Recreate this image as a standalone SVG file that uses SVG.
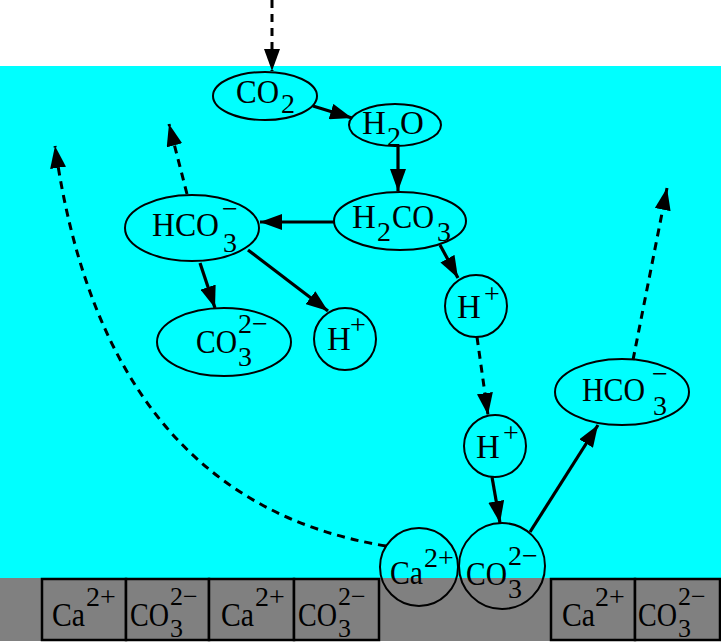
<svg xmlns="http://www.w3.org/2000/svg" width="721" height="643" viewBox="0 0 721 643">
<defs>
<style>
text{font-family:"Liberation Serif","Times New Roman",serif;font-size:33px;fill:#000}
text.s{font-size:28px}
text.k{font-size:26px}
.n{fill:none;stroke:#000;stroke-width:2}
.b{fill:#808080;stroke:#000;stroke-width:2.5}
.a{fill:none;stroke:#000;stroke-width:3.2;marker-end:url(#ah)}
.d{fill:none;stroke:#000;stroke-width:3;stroke-dasharray:8 6;marker-end:url(#ah)}
</style>
<marker id="ah" markerUnits="userSpaceOnUse" markerWidth="24" markerHeight="16" refX="22" refY="8" orient="auto">
<path d="M0,0 L22,8 L0,16 z" fill="#000"/>
</marker>
</defs>
<rect x="0" y="0" width="721" height="643" fill="#fff"/>
<rect x="0" y="66" width="721" height="513" fill="#00ffff"/>
<rect x="0" y="578" width="721" height="63" fill="#808080"/>

<g id="crystal-left">
<rect class="b" x="42" y="579" width="84" height="61"/>
<rect class="b" x="126" y="579" width="83" height="61"/>
<rect class="b" x="209" y="579" width="85" height="61"/>
<rect class="b" x="294" y="579" width="85" height="61"/>
<text x="52" y="626" textLength="33" lengthAdjust="spacingAndGlyphs">Ca</text><text class="s" x="86" y="606">2+</text>
<text x="130" y="626" textLength="39" lengthAdjust="spacingAndGlyphs">CO</text><text class="k" x="170" y="637">3</text><text class="k" x="170" y="605">2−</text>
<text x="221" y="626" textLength="33" lengthAdjust="spacingAndGlyphs">Ca</text><text class="s" x="255" y="606">2+</text>
<text x="298" y="626" textLength="39" lengthAdjust="spacingAndGlyphs">CO</text><text class="k" x="338" y="637">3</text><text class="k" x="338" y="605">2−</text>
</g>
<g id="crystal-right">
<rect class="b" x="551" y="579" width="84" height="61"/>
<rect class="b" x="635" y="579" width="85" height="61"/>
<text x="562" y="626" textLength="33" lengthAdjust="spacingAndGlyphs">Ca</text><text class="s" x="595" y="606">2+</text>
<text x="638" y="626" textLength="39" lengthAdjust="spacingAndGlyphs">CO</text><text class="k" x="678" y="637">3</text><text class="k" x="678" y="605">2−</text>
</g>

<g id="co2">
<ellipse class="n" cx="265" cy="96" rx="52" ry="24"/>
<text x="236" y="103" textLength="43" lengthAdjust="spacingAndGlyphs">CO</text><text class="s" x="281" y="113">2</text>
</g>
<g id="h2o">
<ellipse class="n" cx="395" cy="125" rx="46" ry="21"/>
<text x="362" y="134">H</text><text class="s" x="387" y="146">2</text><text x="400" y="134">O</text>
</g>
<g id="h2co3">
<ellipse class="n" cx="400" cy="221" rx="66" ry="29"/>
<text x="352" y="228">H</text><text class="s" x="377" y="241">2</text><text x="392" y="228" textLength="42" lengthAdjust="spacingAndGlyphs">CO</text><text class="s" x="437" y="241">3</text>
</g>
<g id="hco3-left">
<ellipse class="n" cx="192" cy="228" rx="67" ry="33"/>
<text x="152" y="236" textLength="67" lengthAdjust="spacingAndGlyphs">HCO</text><text class="s" x="223" y="252">3</text><text class="s" x="222" y="218">−</text>
</g>
<g id="co3-left">
<ellipse class="n" cx="224" cy="342" rx="67" ry="34"/>
<text x="196" y="353" textLength="41" lengthAdjust="spacingAndGlyphs">CO</text><text class="s" x="238" y="366">3</text><text class="s" x="238" y="333">2−</text>
</g>
<g id="h-left">
<circle class="n" cx="345" cy="339" r="31"/>
<text x="327" y="350">H</text><text class="s" x="350" y="334">+</text>
</g>
<g id="h-mid">
<circle class="n" cx="476" cy="306" r="31"/>
<text x="457" y="318">H</text><text class="s" x="484" y="303">+</text>
</g>
<g id="h-low">
<circle class="n" cx="495" cy="446" r="31"/>
<text x="476" y="458">H</text><text class="s" x="503" y="442">+</text>
</g>
<g id="hco3-right">
<ellipse class="n" cx="622" cy="392" rx="67" ry="33"/>
<text x="582" y="401" textLength="63" lengthAdjust="spacingAndGlyphs">HCO</text><text class="s" x="653" y="415">3</text><text class="s" x="652" y="383">−</text>
</g>
<g id="ca-surface">
<circle class="n" cx="419" cy="567" r="39"/>
<text x="390" y="584" textLength="33" lengthAdjust="spacingAndGlyphs">Ca</text><text class="s" x="424" y="567">2+</text>
</g>
<g id="co3-surface">
<circle class="n" cx="502" cy="566" r="43"/>
<text x="466" y="585" textLength="41" lengthAdjust="spacingAndGlyphs">CO</text><text class="s" x="508" y="598">3</text><text class="s" x="508" y="565">2−</text>
</g>

<g id="connectors">
<path class="d" d="M272,0 L272,71"/>
<path class="a" d="M313,106 L352,118"/>
<path class="a" d="M398,146 L398,191"/>
<path class="a" d="M335,222 L260,222"/>
<path class="a" d="M200,263 L215,308"/>
<path class="a" d="M248,250 L328,311"/>
<path class="a" d="M440,245 L458,278"/>
<path class="d" d="M477,337 L488,415"/>
<path class="a" d="M492,477 L500,523"/>
<path class="a" d="M530,532 L598,425"/>
<path class="d" d="M633,360 L667,188"/>
<path class="d" d="M187,194 L169,124"/>
<path class="d" d="M386,546 Q105,500 55,146"/>
</g>
</svg>
